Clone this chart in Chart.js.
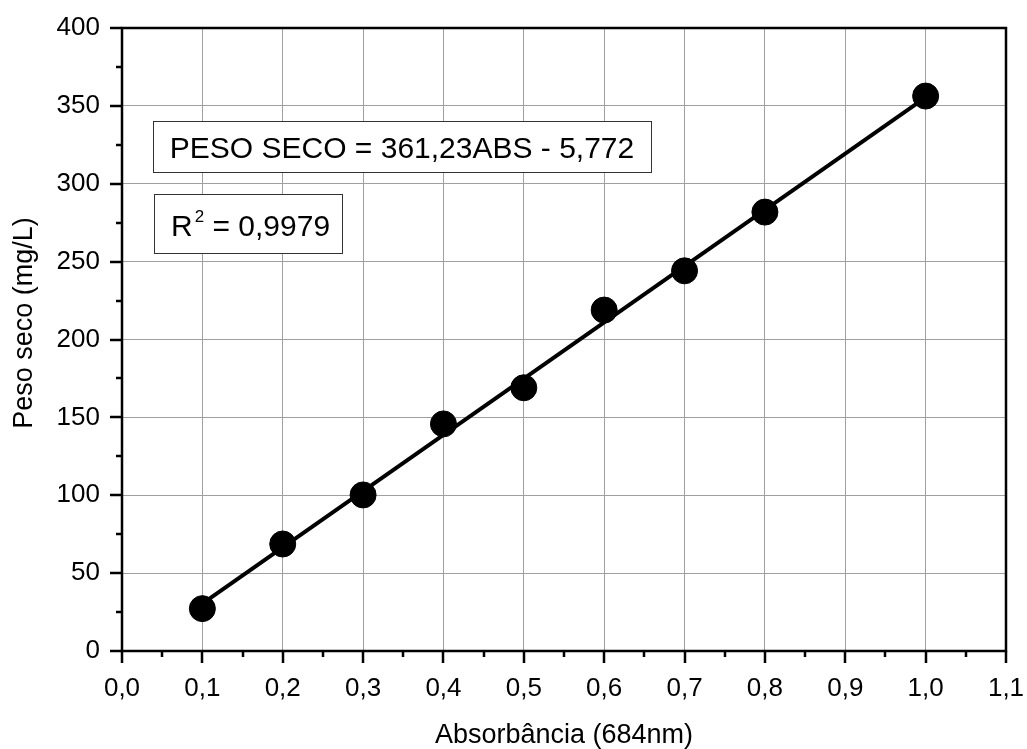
<!DOCTYPE html>
<html>
<head>
<meta charset="utf-8">
<script src="https://cdn.jsdelivr.net/npm/chart.js@4/dist/chart.umd.min.js"></script>
<style>
  html, body { margin: 0; padding: 0; background: #fff; }
  canvas { display: block; }
</style>
</head>
<body>
<canvas id="c" width="1027" height="749"></canvas>
<script>
// calibration data: absorbance vs dry weight
const absX = [0.1, 0.2, 0.3, 0.4, 0.5, 0.6, 0.7, 0.8, 1.0];
const pesoY = [27.2, 68.7, 100.2, 145.8, 169.0, 218.9, 244.1, 281.8, 356.3];
// fitted line end points (PESO SECO = 361,23ABS - 5,772)
const fitX = [0.1, 1.0];
const fitY = [30.35, 355.46];
const xTicks = [0, 0.1, 0.2, 0.3, 0.4, 0.5, 0.6, 0.7, 0.8, 0.9, 1.0, 1.1];
const yTicks = [0, 50, 100, 150, 200, 250, 300, 350, 400];
const eqText = 'PESO SECO = 361,23ABS - 5,772';
const r2Text = ' = 0,9979';
const xTitle = 'Absorbância (684nm)';
const yTitle = 'Peso seco (mg/L)';

const FONT = '"Liberation Sans", Arial, sans-serif';
const fmtX = v => Number(v).toFixed(1).replace('.', ',');

// frame, outside ticks, axis titles and the two text boxes
const decor = {
    id: 'decor',
    afterDraw(chart){
        const {ctx, chartArea: a, scales} = chart;
        const xs = scales.x, ys = scales.y;
        ctx.save();
        ctx.strokeStyle = '#000';
        ctx.lineWidth = 2.5;
        ctx.strokeRect(a.left, a.top, a.right - a.left, a.bottom - a.top);
        ctx.beginPath();
        for (let v = 0; v <= 1.1001; v += 0.05){
            const px = Math.round(xs.getPixelForValue(v));
            const major = Math.abs(v*10 - Math.round(v*10)) < 1e-6;
            ctx.moveTo(px, a.bottom);
            ctx.lineTo(px, a.bottom + (major ? 12 : 6));
        }
        for (let v = 0; v <= 400; v += 25){
            const py = Math.round(ys.getPixelForValue(v));
            const major = v % 50 === 0;
            ctx.moveTo(a.left, py);
            ctx.lineTo(a.left - (major ? 12 : 6), py);
        }
        ctx.stroke();

        // axis titles
        ctx.fillStyle = '#000';
        ctx.font = '27px ' + FONT;
        ctx.textAlign = 'center';
        ctx.textBaseline = 'alphabetic';
        ctx.fillText(xTitle, (a.left + a.right)/2, 743);
        ctx.save();
        ctx.translate(32, 323);
        ctx.rotate(-Math.PI/2);
        ctx.fillText(yTitle, 0, 0);
        ctx.restore();

        // equation box
        const bx = a.left + 31, by = a.top + 93;
        ctx.fillStyle = '#fff';
        ctx.fillRect(bx, by, 498, 51);
        ctx.strokeStyle = '#333';
        ctx.lineWidth = 1;
        ctx.strokeRect(bx + 0.5, by + 0.5, 498, 51);
        ctx.fillStyle = '#000';
        ctx.font = '30px ' + FONT;
        ctx.textAlign = 'center';
        ctx.fillText(eqText, bx + 249, by + 37);

        // R² box
        const rx = a.left + 32, ry = a.top + 166;
        ctx.fillStyle = '#fff';
        ctx.fillRect(rx, ry, 188, 59);
        ctx.strokeRect(rx + 0.5, ry + 0.5, 188, 59);
        ctx.fillStyle = '#000';
        ctx.textAlign = 'left';
        ctx.font = '30px ' + FONT;
        const tx = rx + 17, base = ry + 42;
        ctx.fillText('R', tx, base);
        const rw = ctx.measureText('R').width;
        ctx.font = '17px ' + FONT;
        ctx.fillText('2', tx + rw + 2, base - 14);
        const sw = ctx.measureText('2').width;
        ctx.font = '30px ' + FONT;
        ctx.fillText(r2Text, tx + rw + 2 + sw, base);
        ctx.restore();
    }
};

new Chart(document.getElementById('c'), {
    type: 'scatter',
    data: {
        datasets: [
            {
                type: 'line',
                data: fitX.map((x, i) => ({x, y: fitY[i]})),
                borderColor: '#000',
                borderWidth: 4,
                pointRadius: 0,
                fill: false,
                order: 2
            },
            {
                data: absX.map((x, i) => ({x, y: pesoY[i]})),
                backgroundColor: '#000',
                borderColor: '#000',
                pointRadius: 13,
                pointHoverRadius: 13,
                order: 1
            }
        ]
    },
    options: {
        responsive: false,
        animation: false,
        events: [],
        layout: { padding: { left: 0, top: 28, right: 21, bottom: 0 } },
        plugins: { legend: { display: false }, tooltip: { enabled: false } },
        scales: {
            x: {
                type: 'linear', min: 0, max: 1.1,
                afterFit: s => { s.height = 98; s.paddingLeft = 0; s.paddingRight = 0; },
                afterBuildTicks: s => { s.ticks = xTicks.map(v => ({value: v})); },
                grid: { color: '#a0a0a0', lineWidth: 1, drawTicks: false, tickLength: 0 },
                border: { display: false },
                ticks: { color: '#000', padding: 22, maxRotation: 0, autoSkip: false,
                         font: { size: 26, family: FONT }, callback: v => fmtX(v) }
            },
            y: {
                type: 'linear', min: 0, max: 400,
                afterFit: s => { s.width = 122; s.paddingTop = 0; s.paddingBottom = 0; },
                afterBuildTicks: s => { s.ticks = yTicks.map(v => ({value: v})); },
                grid: { color: '#a0a0a0', lineWidth: 1, drawTicks: false, tickLength: 0 },
                border: { display: false },
                ticks: { color: '#000', padding: 22, autoSkip: false,
                         font: { size: 26, family: FONT } }
            }
        }
    },
    plugins: [decor]
});
</script>
</body>
</html>
